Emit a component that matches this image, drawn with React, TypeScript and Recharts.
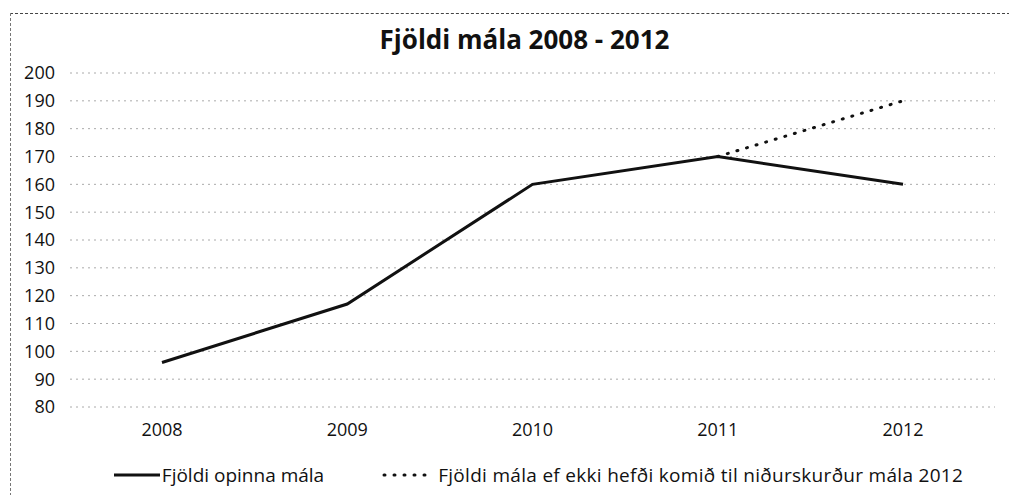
import React from "react";
import {
  LineChart,
  Line,
  XAxis,
  YAxis,
  CartesianGrid,
  Legend,
} from "recharts";

const years = ["2008", "2009", "2010", "2011", "2012"];
const openCases = [96, 117, 160, 170, 160];
const withoutCuts = [null, null, null, 170, 190];
const yTicks = [80, 90, 100, 110, 120, 130, 140, 150, 160, 170, 180, 190, 200];

const SERIES_OPEN = "Fjöldi opinna mála";
const SERIES_NOCUT = "Fjöldi mála ef ekki hefði komið til niðurskurður mála 2012";

const data = years.map((year, i) => ({
  year,
  open: openCases[i],
  nocut: withoutCuts[i],
}));

const FONT = "'Open Sans', 'Noto Sans', sans-serif";

// Legend drawn by hand so the icons look like the print (solid + dotted)
const renderLegend = () => (
  <div
    style={{
      display: "flex",
      justifyContent: "center",
      alignItems: "center",
      paddingTop: 15,
      paddingLeft: 82,
      fontFamily: FONT,
      fontSize: 19,
      color: "#111",
    }}
  >
    <svg width={46} height={8}>
      <line x1={0} y1={4} x2={46} y2={4} stroke="#111" strokeWidth={3} />
    </svg>
    <span style={{ marginLeft: 2 }}>{SERIES_OPEN}</span>
    <svg width={52} height={8} style={{ marginLeft: 58 }}>
      <line
        x1={2}
        y1={4}
        x2={50}
        y2={4}
        stroke="#111"
        strokeWidth={3}
        strokeDasharray="1 9"
        strokeLinecap="round"
      />
    </svg>
    <span style={{ marginLeft: 4, letterSpacing: 0.3 }}>{SERIES_NOCUT}</span>
  </div>
);

export default function App() {
  return (
    <div
      style={{
        position: "absolute",
        left: 0,
        top: 0,
        width: 1009,
        height: 495,
        background: "#fff",
      }}
    >
      {/* scanned frame edges */}
      <div
        style={{
          position: "absolute",
          left: 10,
          top: 13,
          width: 999,
          height: 482,
          borderTop: "1px dashed #444",
          borderLeft: "1px dashed #777",
        }}
      />
      <div
        style={{
          position: "absolute",
          left: 0,
          top: 21,
          width: 1049,
          textAlign: "center",
          fontFamily: FONT,
          fontWeight: 700,
          fontSize: 26,
          color: "#111",
        }}
      >
        Fjöldi mála 2008 - 2012
      </div>
      <LineChart
        width={1009}
        height={495}
        data={data}
        margin={{ top: 73, right: 14, bottom: 8, left: 0 }}
      >
        <CartesianGrid
          horizontal={true}
          vertical={false}
          stroke="#aaa"
          strokeDasharray="2 4"
        />
        <XAxis
          dataKey="year"
          axisLine={false}
          tickLine={false}
          tickSize={0}
          tickMargin={16}
          height={40}
          padding={{ left: 92, right: 92 }}
          tick={{ fill: "#111", fontSize: 18, fontFamily: FONT }}
        />
        <YAxis
          domain={[80, 200]}
          ticks={yTicks}
          interval={0}
          axisLine={false}
          tickLine={false}
          tickSize={0}
          tickMargin={15}
          width={70}
          tick={{ fill: "#111", fontSize: 18, fontFamily: FONT }}
        />
        <Legend verticalAlign="bottom" height={40} content={renderLegend} />
        <Line
          dataKey="nocut"
          name={SERIES_NOCUT}
          stroke="#111"
          strokeWidth={3}
          strokeDasharray="1 9"
          strokeLinecap="round"
          dot={false}
          activeDot={false}
          isAnimationActive={false}
        />
        <Line
          dataKey="open"
          name={SERIES_OPEN}
          stroke="#111"
          strokeWidth={3}
          dot={false}
          activeDot={false}
          isAnimationActive={false}
        />
      </LineChart>
    </div>
  );
}
